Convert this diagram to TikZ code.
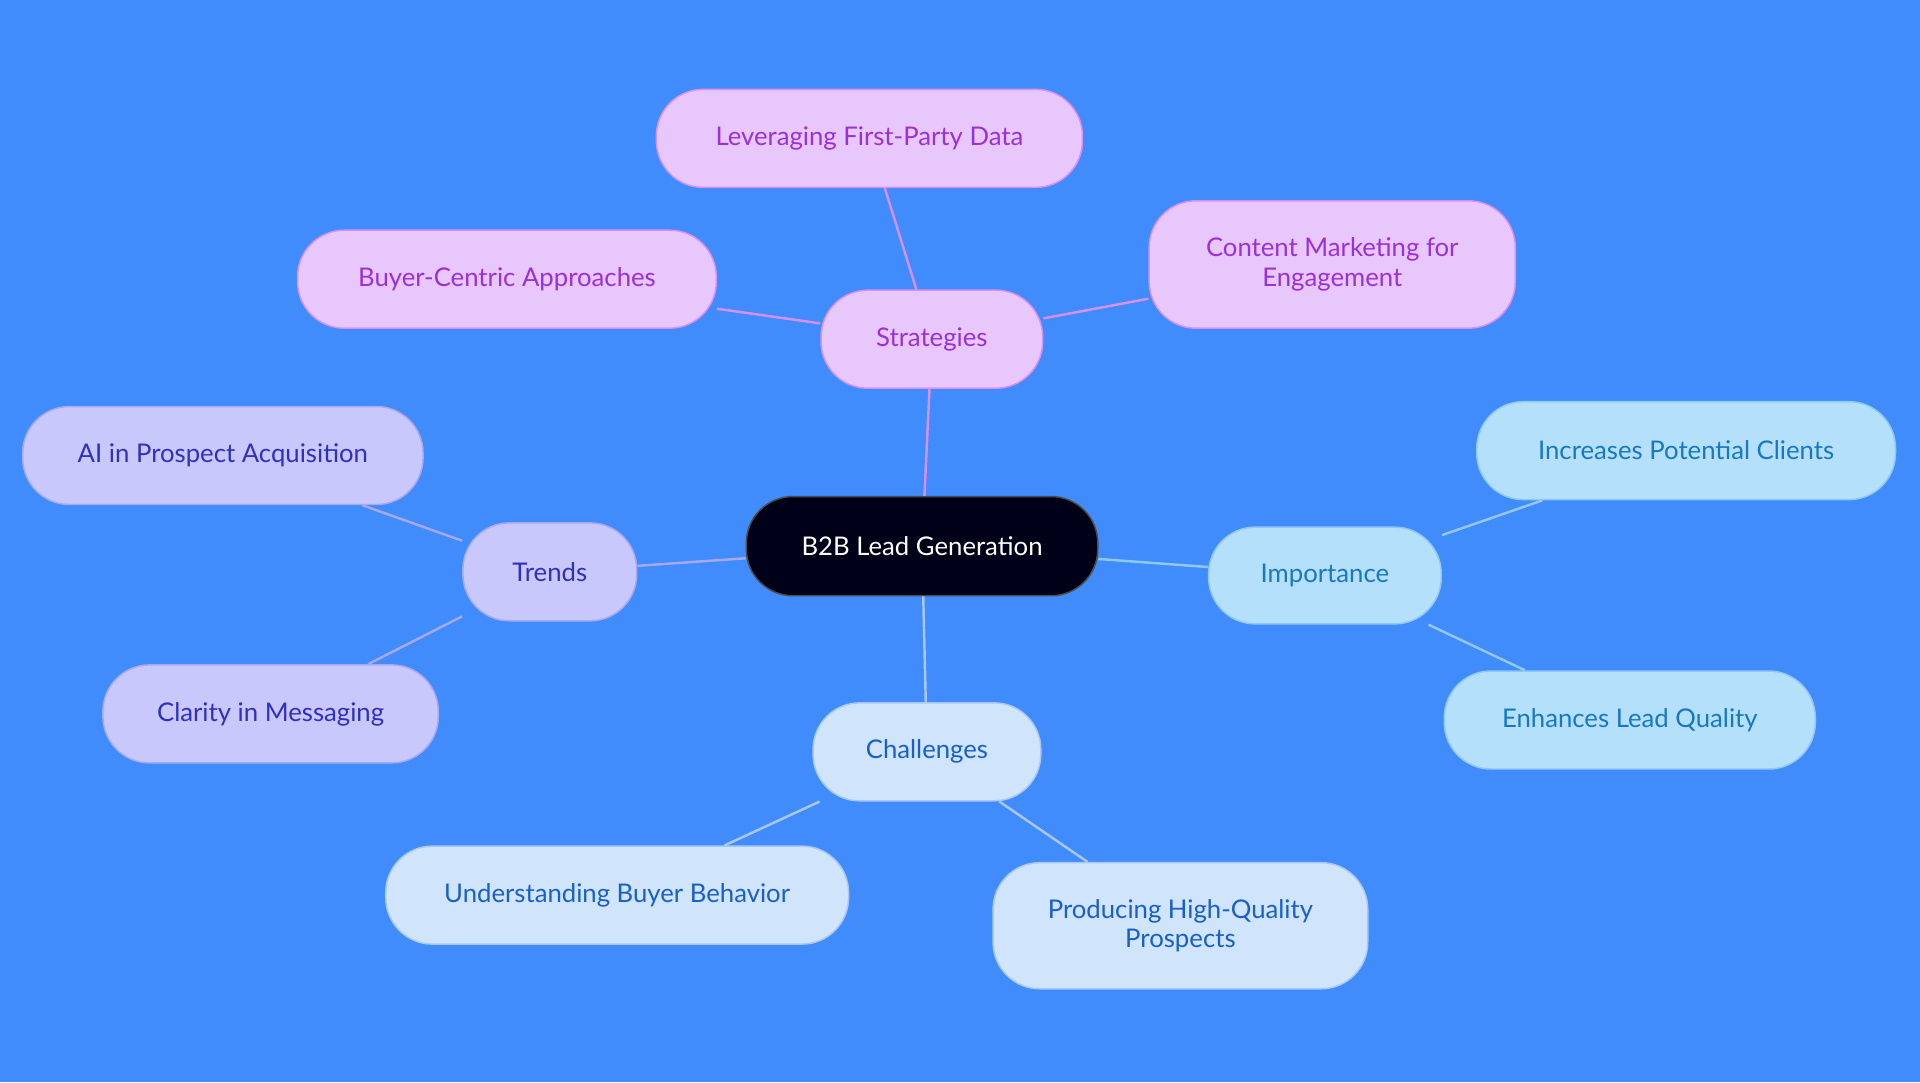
\documentclass[tikz,border=0pt]{standalone}
\usepackage{fontspec}
\setmainfont{Lato}
\begin{document}
\begin{tikzpicture}[x=1pt,y=-1pt,
 box/.style={draw,line width=1.2pt,rounded corners=38pt,align=center,font=\fontsize{21}{24}\selectfont,inner sep=0pt},
 st/.style={box,fill=strF,draw=strD,text=strT},
 tr/.style={box,fill=trF,draw=trD,text=trT},
 im/.style={box,fill=imF,draw=imD,text=imT},
 ch/.style={box,fill=chF,draw=chD,text=chT},
 ln/.style={line width=2pt}]
\definecolor{bg}{HTML}{408CFC}
\definecolor{strF}{HTML}{E8C8FC}\definecolor{strD}{HTML}{D890F0}\definecolor{strT}{HTML}{9A30D8}
\definecolor{trF}{HTML}{C8C8FC}\definecolor{trD}{HTML}{A8A8F0}\definecolor{trT}{HTML}{3030C0}
\definecolor{imF}{HTML}{B4E0FC}\definecolor{imD}{HTML}{90C8F0}\definecolor{imT}{HTML}{1878C0}
\definecolor{chF}{HTML}{D0E4FC}\definecolor{chD}{HTML}{A8C8F0}\definecolor{chT}{HTML}{1860C8}
\fill[bg] (0,0) rectangle (1568,884);
\useasboundingbox (0,0) rectangle (1568,884);
\node[box,fill=black!90!blue,draw=gray!60!black,text=white,minimum width=287pt,minimum height=81pt] (c) at (753,446) {B2B Lead Generation};
\node[st,minimum width=181pt,minimum height=80pt] (s) at (761,277) {Strategies};
\node[st,minimum width=348pt,minimum height=80pt] (s1) at (710,113) {Leveraging First-Party Data};
\node[st,minimum width=342pt,minimum height=80pt] (s2) at (414,228) {Buyer-Centric Approaches};
\node[st,minimum width=299pt,minimum height=104pt] (s3) at (1088,216) {Content Marketing for\\Engagement};
\node[tr,minimum width=142pt,minimum height=80pt] (t) at (449,467) {Trends};
\node[tr,minimum width=327pt,minimum height=80pt] (t1) at (182,372) {AI in Prospect Acquisition};
\node[tr,minimum width=274pt,minimum height=80pt] (t2) at (221,583) {Clarity in Messaging};
\node[im,minimum width=190pt,minimum height=79pt] (i) at (1082,470) {Importance};
\node[im,minimum width=342pt,minimum height=80pt] (i1) at (1377,368) {Increases Potential Clients};
\node[im,minimum width=303pt,minimum height=80pt] (i2) at (1331,588) {Enhances Lead Quality};
\node[ch,minimum width=186pt,minimum height=80pt] (h) at (757,614) {Challenges};
\node[ch,minimum width=378pt,minimum height=80pt] (h1) at (504,731) {Understanding Buyer Behavior};
\node[ch,minimum width=306pt,minimum height=103pt] (h2) at (964,756) {Producing High-Quality\\Prospects};
\begin{scope}[on background layer/.style={}]
\end{scope}
\draw[ln,strD] (c) -- (s); \draw[ln,strD] (s) -- (s1); \draw[ln,strD] (s) -- (s2); \draw[ln,strD] (s) -- (s3);
\draw[ln,trD] (c) -- (t); \draw[ln,trD] (t) -- (t1); \draw[ln,trD] (t) -- (t2);
\draw[ln,imD] (c) -- (i); \draw[ln,imD] (i) -- (i1); \draw[ln,imD] (i) -- (i2);
\draw[ln,chD] (c) -- (h); \draw[ln,chD] (h) -- (h1); \draw[ln,chD] (h) -- (h2);
\end{tikzpicture}
\end{document}
